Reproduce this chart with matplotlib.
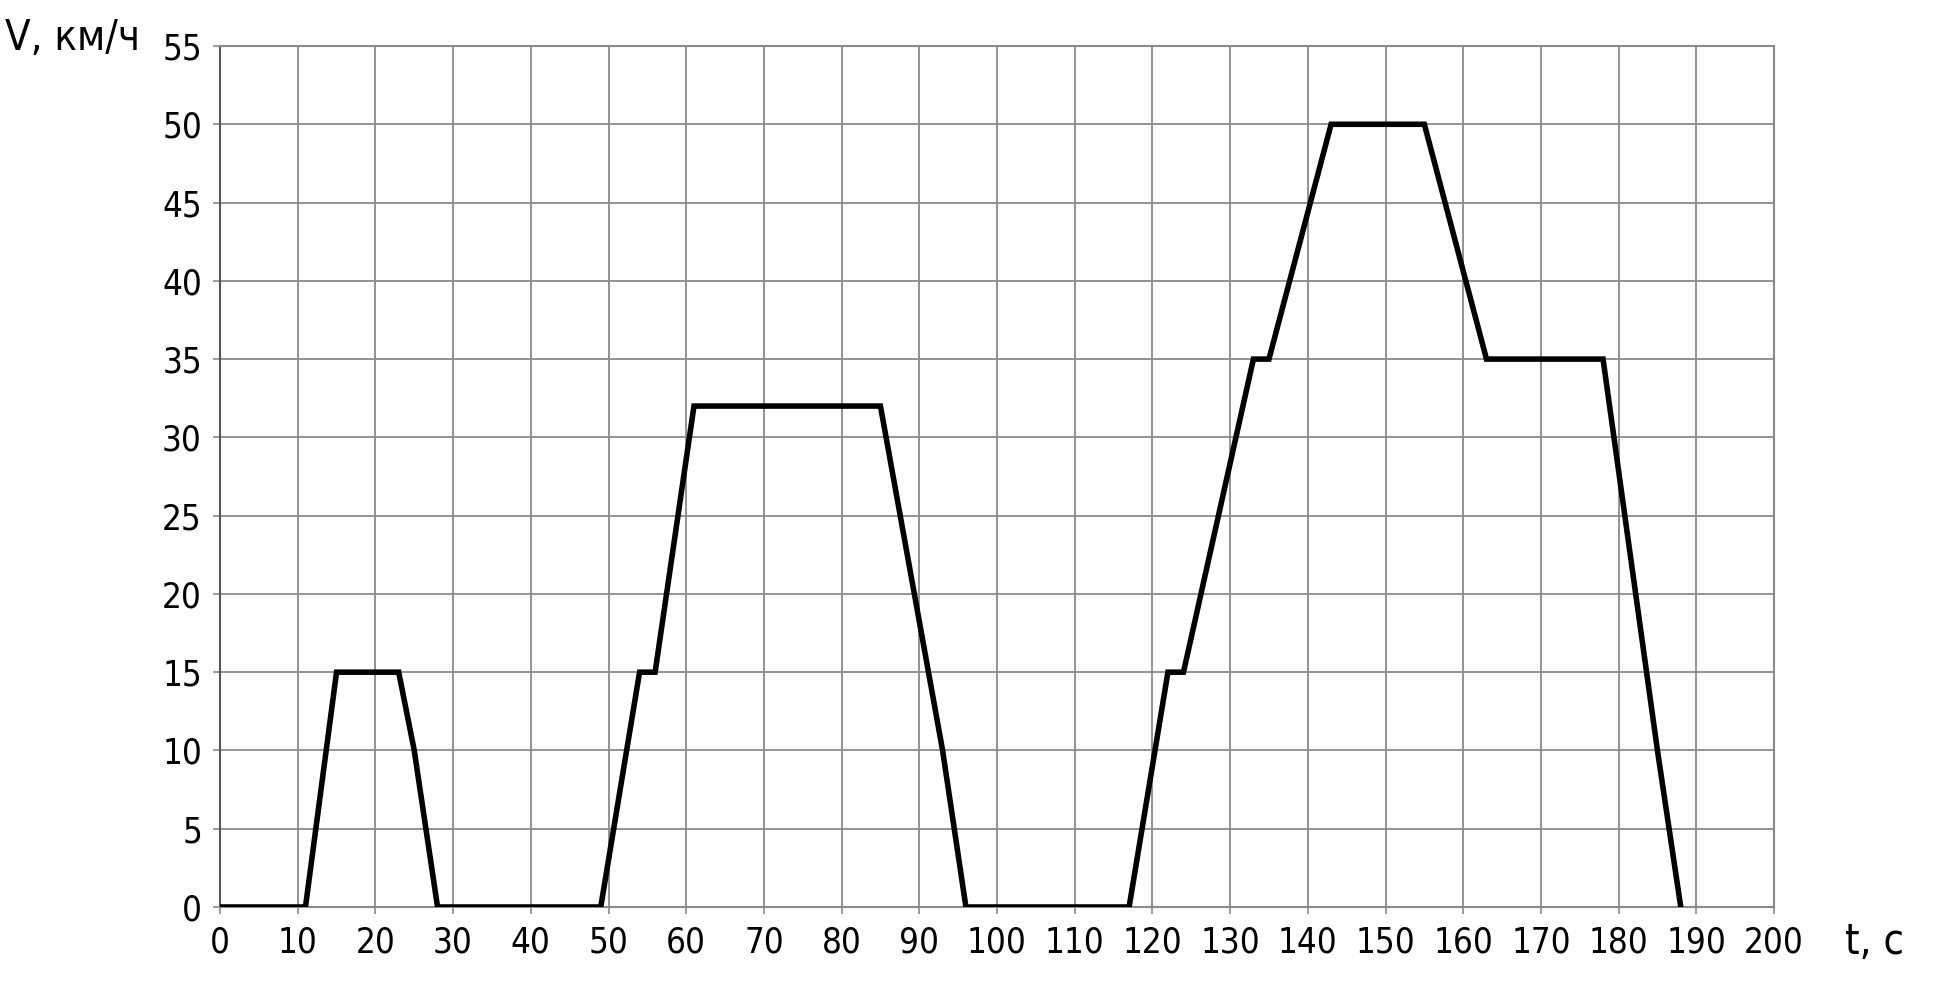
import numpy as np
import matplotlib.pyplot as plt

#-------------------------------------------------------------------------------------------------

# ECE-15 urban cycle, speed vs time
timeList = [0, 11, 15, 23, 25, 28, 49, 54, 56, 61, 85, 93, 96,
            117, 122, 124, 133, 135, 143, 155, 163, 178, 185, 188]
speedList = [0, 0, 15, 15, 10, 0, 0, 15, 15, 32, 32, 10, 0,
             0, 15, 15, 35, 35, 50, 50, 35, 35, 10, 0]

xTicks = np.arange(0, 201, 10)
yTicks = np.arange(0, 56, 5)

gridColor = '#8a8a8a'

#-------------------------------------------------------------------------------------------------

plt.rcParams['font.family'] = ['DejaVu Sans']
plt.rcParams['font.stretch'] = 'condensed'

fig = plt.figure(figsize=(19.41, 9.88), dpi=100)
ax = fig.add_axes([220/1941, 1 - 907/988, (1774-220)/1941, (907-46)/988])

ax.plot(timeList, speedList, color='black', lw=4.0, solid_joinstyle='miter', zorder=3)

ax.set_xlim(0, 200)
ax.set_ylim(0, 55)
ax.set_xticks(xTicks)
ax.set_yticks(yTicks)
ax.grid(True, color=gridColor, lw=1.3)
ax.tick_params(length=5, width=1.2, color=gridColor, labelsize=25, pad=8)
for s in ax.spines.values():
	s.set_color(gridColor)
	s.set_linewidth(1.5)
ax.spines['left'].set_color('#555555')

fig.text(5/1941, 1 - 38/988, 'V, км/ч', fontsize=30, va='center', ha='left')
fig.text(1845/1941, 1 - 942/988, 't, c', fontsize=30, va='center', ha='left')

plt.savefig('out.png', dpi=100)
